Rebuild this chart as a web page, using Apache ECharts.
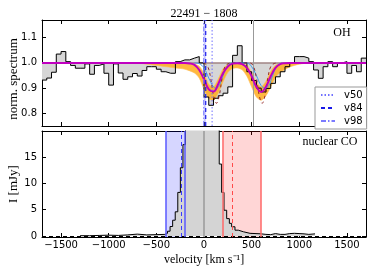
<!DOCTYPE html>
<html><head><meta charset="utf-8">
<script src="https://cdn.jsdelivr.net/npm/echarts@6/dist/echarts.min.js"></script>
<style>html,body{margin:0;padding:0;background:#fff}#c{width:374px;height:280px}</style>
</head><body><div id="c"></div>
<script>
// ---------- DATA ----------
const titleText = '22491 − 1808';
const xTicks = [-1500, -1000, -500, 0, 500, 1000, 1500];
const ohTicks = [0.8, 0.9, 1.0, 1.1];
const coTicks = [0, 5, 10, 15];
const continuum = 1.0;

// OH observed spectrum: bin left edges (km/s) and normalized flux
const ohEdges = [-1700,-1650,-1600,-1550,-1500,-1450,-1400,-1350,-1300,-1250,-1200,-1150,-1100,-1050,-1000,-950,-900,-850,-800,-750,-700,-650,-600,-550,-500,-450,-400,-350,-300,-250,-200,-150,-100,-50,0,50,100,150,200,250,300,350,400,450,500,550,600,650,700,750,800,850,900,950,1000,1050,1100,1150,1200,1250,1300,1350,1400,1450,1500,1550,1600,1650,1700];
const ohFlux = [0.932,0.94,0.963,1.035,1.045,1.005,0.99,0.979,0.979,0.996,0.955,0.99,0.996,0.959,0.912,0.996,0.96,0.935,0.945,0.958,0.948,0.97,0.985,0.985,0.975,0.965,0.959,0.959,1.005,1.012,1.012,1.019,1.025,1.0,0.865,0.832,0.86,0.87,0.88,0.905,1.03,1.068,1.0,0.965,0.93,0.9,0.885,0.899,0.919,0.945,0.965,0.985,1.0,1.025,1.025,1.019,1.005,0.972,0.939,0.985,1.005,0.985,1.0,1.005,0.959,0.99,0.965,1.019];

// best-fit model (magenta)
const fitVel  = [-1700,-250,-200,-150,-100,-50,0,50,100,150,200,250,300,350,400,450,500,550,600,650,700,750,800,850,900,1700];
const fitFlux = [1.0,1.0,1.0,0.998,0.992,0.972,0.935,0.895,0.887,0.917,0.959,0.986,0.997,0.999,0.995,0.98,0.947,0.905,0.885,0.905,0.947,0.98,0.995,0.999,1.0,1.0];

// model samples envelope (orange)
const sampVel  = [-700,-500,-300,-200,-100,-50,0,50,100,150,200,250,300,350,400,450,500,550,600,650,700,750,800,900,1000,1100];
const sampLow  = [1.0,0.99,0.98,0.975,0.96,0.94,0.895,0.86,0.852,0.88,0.925,0.962,0.978,0.98,0.973,0.947,0.905,0.865,0.852,0.87,0.905,0.942,0.962,0.984,0.995,1.0];
const sampHigh = [1.0,1.0,1.0,0.998,0.995,0.987,0.958,0.915,0.905,0.937,0.977,0.994,1.0,1.0,0.998,0.991,0.962,0.922,0.905,0.927,0.967,0.991,0.997,1.0,1.0,1.0];

// components
const compBlueVel  = [-100,-50,0,50,100,130,160,200,250,300,450,500,550,600,640,680,720,770,820];
const compBlueFlux = [1.0,0.997,0.98,0.94,0.905,0.9,0.91,0.95,0.99,1.0,1.0,0.985,0.95,0.91,0.9,0.91,0.95,0.99,1.0];
const compRedVel  = [0,40,70,100,130,160,190,220,260,300,480,520,550,580,610,640,670,700,740,780];
const compRedFlux = [1.0,0.985,0.94,0.87,0.84,0.87,0.94,0.985,0.998,1.0,1.0,0.985,0.94,0.87,0.84,0.87,0.94,0.985,0.998,1.0];

// outflow velocities
const vNames  = ['v50', 'v84', 'v98'];
const vValues = [85, 18, -3];
const ohLineSep = 520;

// nuclear CO spectrum: bin edges and flux (mJy)
const coEdges = [-1300,-1200,-1100,-1000,-900,-800,-700,-600,-500,-410,-383,-356,-329,-302,-275,-248,-221,-194,-167,160,185,210,238,266,290,325,360,413,483,600,650,700,750,800,850,900,950,1000,1050,1100,1165];
const coFlux  = [0.05,0.1,0.15,0.1,0.2,0.35,0.2,0.25,0.3,0.5,0.9,1.8,3.0,4.6,8.3,13.0,17.4,22,28,13.7,8.3,4.9,3.3,2.4,1.75,1.1,0.8,0.5,0.4,0.3,0.25,0.45,0.3,0.3,0.45,0.5,0.45,0.4,0.3,0.4];
const blueRange = [-400, -200], blueMid = -235;
const redRange  = [195, 600],  redMid  = 300;

// ---------- CHART ----------
const xMin = -1700, xMax = 1700;
const ohMin = 0.75, ohMax = 1.17;
const coMin = -0.2, coMax = 20;
const serif = 'Liberation Serif';
const sans = 'DejaVu Sans';

const stepData = (edges, vals) => edges.map((e, i) => [e, vals[Math.min(i, vals.length - 1)]]);
const pairs = (xs, ys) => xs.map((x, i) => [x, ys[i]]);

function xAxis(grid, pos, labels) {
  return {
    type: 'value', gridIndex: grid, position: pos, min: xMin, max: xMax,
    axisLine: { show: true, onZero: false, lineStyle: { color: '#000', width: 1 } },
    axisTick: { show: true, inside: true, length: 4, customValues: xTicks, lineStyle: { color: '#000' } },
    axisLabel: { show: labels, customValues: xTicks, fontFamily: sans, fontSize: 10, color: '#000', margin: 3,
                 formatter: v => (v < 0 ? '\u2212' + Math.abs(v) : '' + v) },
    splitLine: { show: false }
  };
}
function yAxis(grid, pos, labels, min, max, ticks, dec) {
  return {
    type: 'value', gridIndex: grid, position: pos, min: min, max: max,
    axisLine: { show: true, onZero: false, lineStyle: { color: '#000', width: 1 } },
    axisTick: { show: true, inside: true, length: 4, customValues: ticks, lineStyle: { color: '#000' } },
    axisLabel: { show: labels, customValues: ticks, fontFamily: sans, fontSize: 10, color: '#000', margin: 5,
                 formatter: v => v.toFixed(dec) },
    splitLine: { show: false }
  };
}

const lineStyles = {
  v50: { color: '#7070ff', width: 1, type: [1.5, 2] },
  v84: { color: '#1818e8', width: 1.2, type: [4, 3] },
  v98: { color: '#7a7aff', width: 1, type: [5, 2, 1.5, 2] }
};

const series = [];
// gray fill between data and continuum
series.push({ type: 'line', xAxisIndex: 0, yAxisIndex: 0, data: stepData(ohEdges, ohFlux), step: 'end',
  symbol: 'none', lineStyle: { width: 0 }, areaStyle: { color: '#d6d6d6', opacity: 1, origin: continuum }, z: 1, silent: true });
// orange samples band (polygon between envelopes, placed through the axes)
series.push({ type: 'custom', xAxisIndex: 0, yAxisIndex: 0, coordinateSystem: 'cartesian2d', data: [[sampVel[0], sampLow[0]]], z: 2, silent: true,
  renderItem: (params, api) => {
    const pts = [];
    sampVel.forEach((v, i) => pts.push(api.coord([v, sampLow[i]])));
    for (let i = sampVel.length - 1; i >= 0; i--) pts.push(api.coord([sampVel[i], sampHigh[i]]));
    return { type: 'polygon', shape: { points: pts, smooth: 0.25 },
      style: { fill: 'rgba(255,172,30,0.85)', stroke: 'rgba(255,190,90,0.8)', lineWidth: 0.8 } };
  } });
// continuum line
series.push({ type: 'line', xAxisIndex: 0, yAxisIndex: 0, data: [[xMin, continuum], [xMax, continuum]],
  symbol: 'none', lineStyle: { width: 1.5, color: '#a08484' }, z: 3, silent: true });
// observed spectrum
series.push({ type: 'line', xAxisIndex: 0, yAxisIndex: 0, data: stepData(ohEdges, ohFlux), step: 'end',
  symbol: 'none', lineStyle: { width: 1, color: '#000' }, z: 4, silent: true,
  markLine: { silent: true, symbol: 'none', label: { show: false }, lineStyle: { color: '#999', width: 1, type: 'solid' },
    data: [{ xAxis: ohLineSep }] } });
// outflow band
series.push({ type: 'line', xAxisIndex: 0, yAxisIndex: 0, data: [], z: 3, silent: true,
  markArea: { silent: true, data: [[{ xAxis: vValues[2], itemStyle: { color: 'rgba(90,90,255,0.35)' } }, { xAxis: vValues[1] }]] } });
// components
series.push({ type: 'line', xAxisIndex: 0, yAxisIndex: 0, data: pairs(compBlueVel, compBlueFlux), smooth: 0.4,
  symbol: 'none', lineStyle: { width: 1, color: '#3d9df0' }, z: 5, silent: true });
series.push({ type: 'line', xAxisIndex: 0, yAxisIndex: 0, data: pairs(compRedVel, compRedFlux), smooth: 0.4,
  symbol: 'none', lineStyle: { width: 0.9, color: '#8b1a1a', type: [3, 3] }, z: 5, silent: true });
// best fit
series.push({ type: 'line', xAxisIndex: 0, yAxisIndex: 0, data: pairs(fitVel, fitFlux), smooth: 0.4,
  symbol: 'none', lineStyle: { width: 2, color: '#c000c0' }, z: 6, silent: true });
// outflow velocity lines
vNames.forEach((n, i) => {
  series.push({ name: n, type: 'line', xAxisIndex: 0, yAxisIndex: 0,
    data: [[vValues[i], ohMin], [vValues[i], ohMax]], symbol: 'none', showSymbol: false,
    itemStyle: { color: lineStyles[n].color }, lineStyle: lineStyles[n], z: 7, silent: true });
});

// CO profile
series.push({ type: 'line', xAxisIndex: 2, yAxisIndex: 2, data: stepData(coEdges, coFlux), step: 'end',
  symbol: 'none', lineStyle: { width: 1, color: '#000' }, areaStyle: { color: '#d4d4d4', opacity: 1, origin: 0 }, z: 2, silent: true,
  markLine: { silent: true, symbol: 'none', label: { show: false },
    data: [{ yAxis: 0, lineStyle: { color: '#000', width: 1, type: [4, 3] } }] } });
// bands
series.push({ type: 'line', xAxisIndex: 2, yAxisIndex: 2, data: [], z: 3, silent: true,
  markArea: { silent: true, data: [
    [{ xAxis: blueRange[0], itemStyle: { color: 'rgba(0,0,255,0.16)' } }, { xAxis: blueRange[1] }],
    [{ xAxis: redRange[0], itemStyle: { color: 'rgba(255,0,0,0.16)' } }, { xAxis: redRange[1] }]
  ] },
  markLine: { silent: true, symbol: 'none', label: { show: false }, data: [
    { xAxis: blueRange[0], lineStyle: { color: '#5a5aff', width: 1.5, type: 'solid' } },
    { xAxis: blueRange[1], lineStyle: { color: '#5a5aff', width: 1.5, type: 'solid' } },
    { xAxis: blueMid, lineStyle: { color: '#3a3aff', width: 1, type: [4, 3] } },
    { xAxis: redRange[0], lineStyle: { color: '#ff6a6a', width: 1.5, type: 'solid' } },
    { xAxis: redRange[1], lineStyle: { color: '#ff6a6a', width: 1.5, type: 'solid' } },
    { xAxis: redMid, lineStyle: { color: '#ff4a4a', width: 1, type: [4, 3] } },
    { xAxis: 0, lineStyle: { color: '#a8a8a8', width: 2, type: 'solid' } }
  ] } });

const option = {
  animation: false,
  backgroundColor: '#fff',
  grid: [
    { left: 42, top: 20, width: 324, height: 106 },
    { left: 42, top: 131, width: 324, height: 106 }
  ],
  xAxis: [xAxis(0, 'bottom', false), xAxis(0, 'top', false), xAxis(1, 'bottom', true), xAxis(1, 'top', false)],
  yAxis: [yAxis(0, 'left', true, ohMin, ohMax, ohTicks, 1), yAxis(0, 'right', false, ohMin, ohMax, ohTicks, 1),
          yAxis(1, 'left', true, coMin, coMax, coTicks, 0), yAxis(1, 'right', false, coMin, coMax, coTicks, 0)],
  legend: {
    data: vNames, orient: 'vertical', left: 315, top: 87, itemWidth: 14, itemHeight: 8, itemGap: 3,
    padding: [3, 4, 3, 5], backgroundColor: '#fff', borderColor: '#999', borderWidth: 1, borderRadius: 0,
    itemStyle: { color: 'rgba(0,0,0,0)', borderWidth: 0, opacity: 0 },
    textStyle: { fontFamily: sans, fontSize: 10, color: '#000', padding: [0, 0, 0, 4] }, selectedMode: false
  },
  series: series,
  graphic: [
    { type: 'text', x: 204, y: 14, style: { text: titleText, font: '12px "' + serif + '"', fill: '#000', textAlign: 'center', textVerticalAlign: 'middle' } },
    { type: 'text', x: 342, y: 33, style: { text: 'OH', font: '12px "' + serif + '"', fill: '#000', textAlign: 'center', textVerticalAlign: 'middle' } },
    { type: 'text', x: 330, y: 142, style: { text: 'nuclear CO', font: '12px "' + serif + '"', fill: '#000', textAlign: 'center', textVerticalAlign: 'middle' } },
    { type: 'text', x: 14, y: 79, rotation: Math.PI / 2, style: { text: 'norm. spectrum', font: '13px "' + serif + '"', fill: '#000', textAlign: 'center', textVerticalAlign: 'middle' } },
    { type: 'text', x: 14, y: 184, rotation: Math.PI / 2, style: { text: 'I [mJy]', font: '13px "' + serif + '"', fill: '#000', textAlign: 'center', textVerticalAlign: 'middle' } },
    { type: 'text', x: 204, y: 260, style: { text: 'velocity [km s⁻¹]', font: '12px "' + serif + '"', fill: '#000', textAlign: 'center', textVerticalAlign: 'middle' } }
  ]
};
const chart = echarts.init(document.getElementById('c'), null, { renderer: 'canvas' });
chart.setOption(option);
</script></body></html>
